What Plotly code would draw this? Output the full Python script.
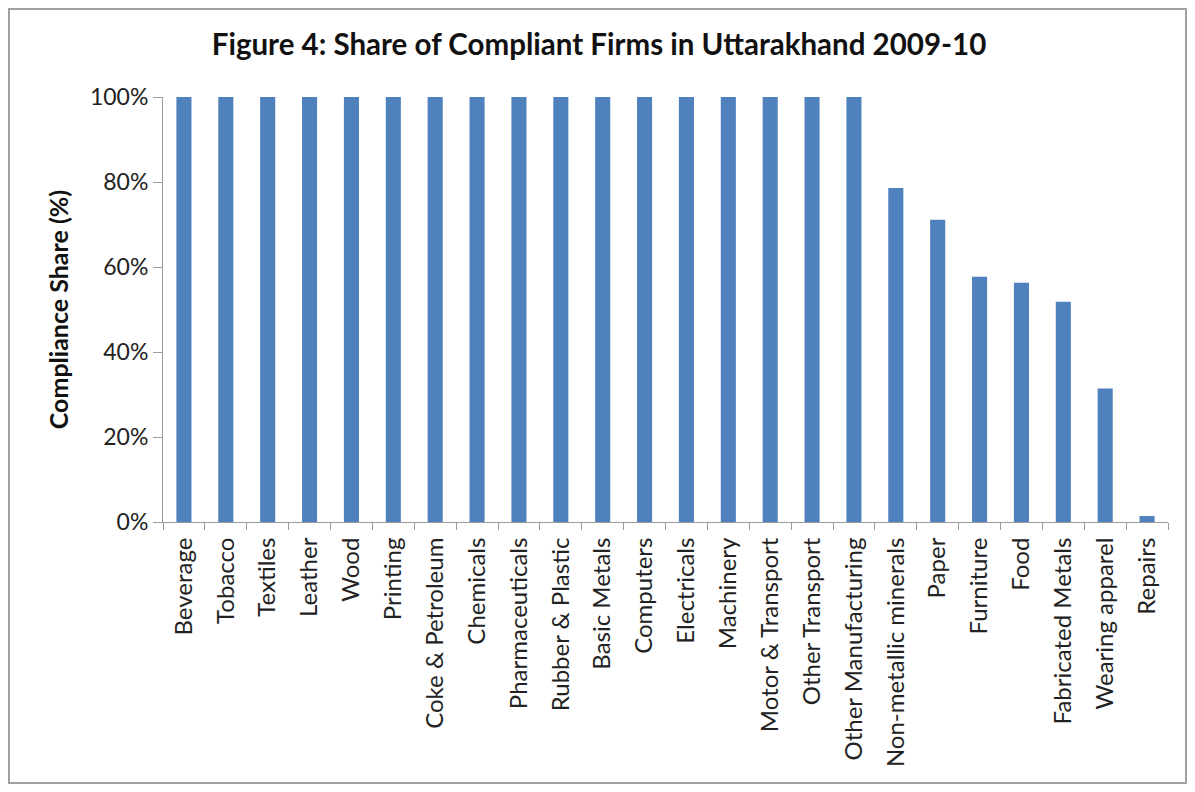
import plotly.graph_objects as go

# Sectors and their compliance share (%)
sectors = ["Beverage", "Tobacco", "Textiles", "Leather", "Wood", "Printing",
           "Coke & Petroleum", "Chemicals", "Pharmaceuticals", "Rubber & Plastic",
           "Basic Metals", "Computers", "Electricals", "Machinery", "Motor & Transport",
           "Other Transport", "Other Manufacturing", "Non-metallic minerals", "Paper",
           "Furniture", "Food", "Fabricated Metals", "Wearing apparel", "Repairs"]
share = [100, 100, 100, 100, 100, 100, 100, 100, 100, 100, 100, 100, 100, 100,
         100, 100, 100, 78.6, 71.1, 57.7, 56.3, 51.8, 31.4, 1.4]
y_ticks = [0, 20, 40, 60, 80, 100]

font = "Lato, Open Sans, sans-serif"

# page body has an 8px margin, so the figure is a bit smaller than the window
W, H = 1179, 776
L, R, T, B = 155, 19, 89, 262
pw, ph = W - L - R, H - T - B

fig = go.Figure()
fig.add_trace(go.Bar(
    x=sectors,
    y=share,
    marker=dict(color="#4F81BD", line=dict(width=0)),
    hovertemplate="%{x}: %{y:.1f}%<extra></extra>",
))

fig.update_layout(
    width=W, height=H,
    margin=dict(l=L, r=R, t=T, b=B, autoexpand=False),
    paper_bgcolor="white", plot_bgcolor="white",
    bargap=0.64,
    showlegend=False,
    font=dict(family=font, color="#222222"),
    title=dict(text="<b>Figure 4: Share of Compliant Firms in Uttarakhand 2009-10</b>",
               x=(599 - 8 - L) / pw, xref="paper", xanchor="center",
               y=1 - (45 - 8) / H, yanchor="middle",
               font=dict(size=29.5, color="#111111")),
    shapes=[dict(type="rect", xref="paper", yref="paper",
                 x0=(1 - L) / pw, x1=(W - 1 - L) / pw,
                 y0=-(B - 1) / ph, y1=(ph + T - 1) / ph,
                 line=dict(color="#a0a0a0", width=2), layer="below")],
)

fig.update_yaxes(
    range=[0, 100], tickvals=y_ticks, ticktext=[f"{v}%" for v in y_ticks],
    showgrid=False, zeroline=False, automargin=False,
    showline=True, linecolor="#9a9a9a", linewidth=1,
    ticks="outside", ticklen=9, tickcolor="#9a9a9a",
    tickfont=dict(size=23, color="#222222"),
    title=dict(text="<b>Compliance Share (%)</b>", font=dict(size=25, color="#111111"),
               standoff=14),
)
fig.update_xaxes(
    tickangle=-90, tickfont=dict(size=24, color="#222222"), automargin=False,
    showline=True, linecolor="#9a9a9a", linewidth=1,
    ticks="outside", ticklen=7, tickcolor="#9a9a9a", tickson="boundaries",
    ticklabelstandoff=5,
    showgrid=False,
)

fig.write_html("out.html")
